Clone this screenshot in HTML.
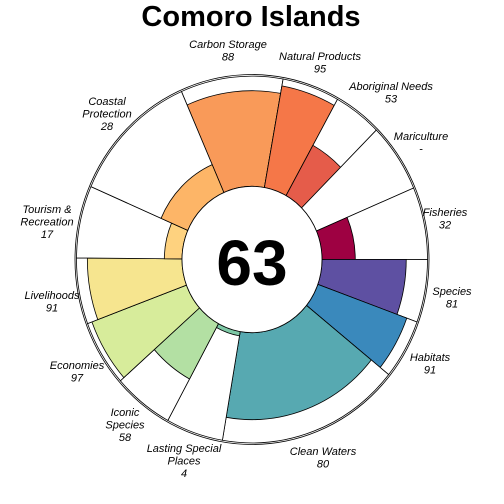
<!DOCTYPE html>
<html><head><meta charset="utf-8"><style>
html,body{margin:0;padding:0;background:#fff;}
svg{display:block;}
text{font-family:"Liberation Sans",sans-serif;}
.lab{font-size:11px;font-style:italic;fill:#000;}
</style></head><body>
<svg id="chart" width="504" height="504" viewBox="0 0 504 504">
<text x="251" y="26" text-anchor="middle" font-size="29" font-weight="bold">Comoro Islands</text>
<g id="petals"></g>
<circle cx="252" cy="259.5" r="70" fill="#fff" stroke="#000" stroke-width="0.8" transform="translate(252 259.5) scale(1 1.045) translate(-252 -259.5)"/>
<text x="252" y="285" text-anchor="middle" font-size="64" font-weight="bold">63</text>
<g id="labels"></g>
</svg>
<script>
const goals = ["Carbon Storage","Natural Products","Aboriginal Needs","Mariculture","Fisheries","Species","Habitats","Clean Waters","Lasting Special Places","Iconic Species","Economies","Livelihoods","Tourism & Recreation","Coastal Protection"];
const scores = [88,95,53,null,32,81,91,80,4,58,97,91,17,28];
const weights = [34,19,16,22,23,20,19,61,19,20,21,21,23,43];
const colors = ["#F99A59","#F57748","#E55C4A","#D53E4F","#9E0142","#5E50A2","#3A89BC","#57A9B1","#7DC8A5","#B3E0A3","#D7EC9B","#F6E58F","#FED27F","#FDB567"];

const cx=252, cy=259.5, sy=1.045, ri=70, rmax=174, startAngle=-23.7;
const NS="http://www.w3.org/2000/svg";
function rScale(v){ return ri + (rmax-ri)*v/100; }
function pt(a,r){ const t=a*Math.PI/180; return [cx+r*Math.sin(t), cy-r*Math.cos(t)*sy]; }
function wedge(a0,a1,r){
  const p0=pt(a0,ri),p1=pt(a0,r),p2=pt(a1,r),p3=pt(a1,ri);
  const lg=(a1-a0)>180?1:0;
  return `M${p0[0]},${p0[1]} L${p1[0]},${p1[1]} A${r},${r*sy} 0 ${lg} 1 ${p2[0]},${p2[1]} L${p3[0]},${p3[1]} A${ri},${ri*sy} 0 ${lg} 0 ${p0[0]},${p0[1]} Z`;
}
const g=document.getElementById('petals');
const outer=document.createElementNS(NS,'ellipse');
outer.setAttribute('cx',cx);outer.setAttribute('cy',cy);outer.setAttribute('rx',177);outer.setAttribute('ry',177*sy);
outer.setAttribute('fill','#fff');outer.setAttribute('stroke','#000');outer.setAttribute('stroke-width','0.8');


g.appendChild(outer);
const total=weights.reduce((a,b)=>a+b,0);
let a=startAngle;
weights.forEach((w,i)=>{
  const a0=a, a1=a+w*360/total; a=a1;
  const bg=document.createElementNS(NS,'path');
  bg.setAttribute('d',wedge(a0,a1,rScale(100)+1.5));
  bg.setAttribute('fill','#fff');bg.setAttribute('stroke','#000');bg.setAttribute('stroke-width','0.8');
  
  
  g.appendChild(bg);
  if(scores[i]!==null){
    const p=document.createElementNS(NS,'path');
    p.setAttribute('d',wedge(a0,a1,rScale(scores[i])));
    p.setAttribute('fill',colors[i]);p.setAttribute('stroke','#000');p.setAttribute('stroke-width','0.8');
    
    
    g.appendChild(p);
  }
});
const labelPos=[[228,44],[320,56],[391,86],[421,136],[445,212],[452,291],[430,357],[323,451],[184,448],[125,412],[77,365],[52,295],[47,209],[107,101]];
const labelLines=[["Carbon Storage"],["Natural Products"],["Aboriginal Needs"],["Mariculture"],["Fisheries"],["Species"],["Habitats"],["Clean Waters"],["Lasting Special","Places"],["Iconic","Species"],["Economies"],["Livelihoods"],["Tourism &","Recreation"],["Coastal","Protection"]];
const lg=document.getElementById('labels');
labelLines.forEach((lines,i)=>{
  const all=lines.concat([scores[i]===null?"-":String(scores[i])]);
  const t=document.createElementNS(NS,'text');
  t.setAttribute('class','lab');
  t.setAttribute('text-anchor','middle');
  
  
  all.forEach((s,j)=>{
    const ts=document.createElementNS(NS,'tspan');
    ts.setAttribute('x',labelPos[i][0]);
    ts.setAttribute('y',labelPos[i][1]+4+j*12.5);
    ts.textContent=s;
    t.appendChild(ts);
  });
  lg.appendChild(t);
});
</script>
</body></html>
